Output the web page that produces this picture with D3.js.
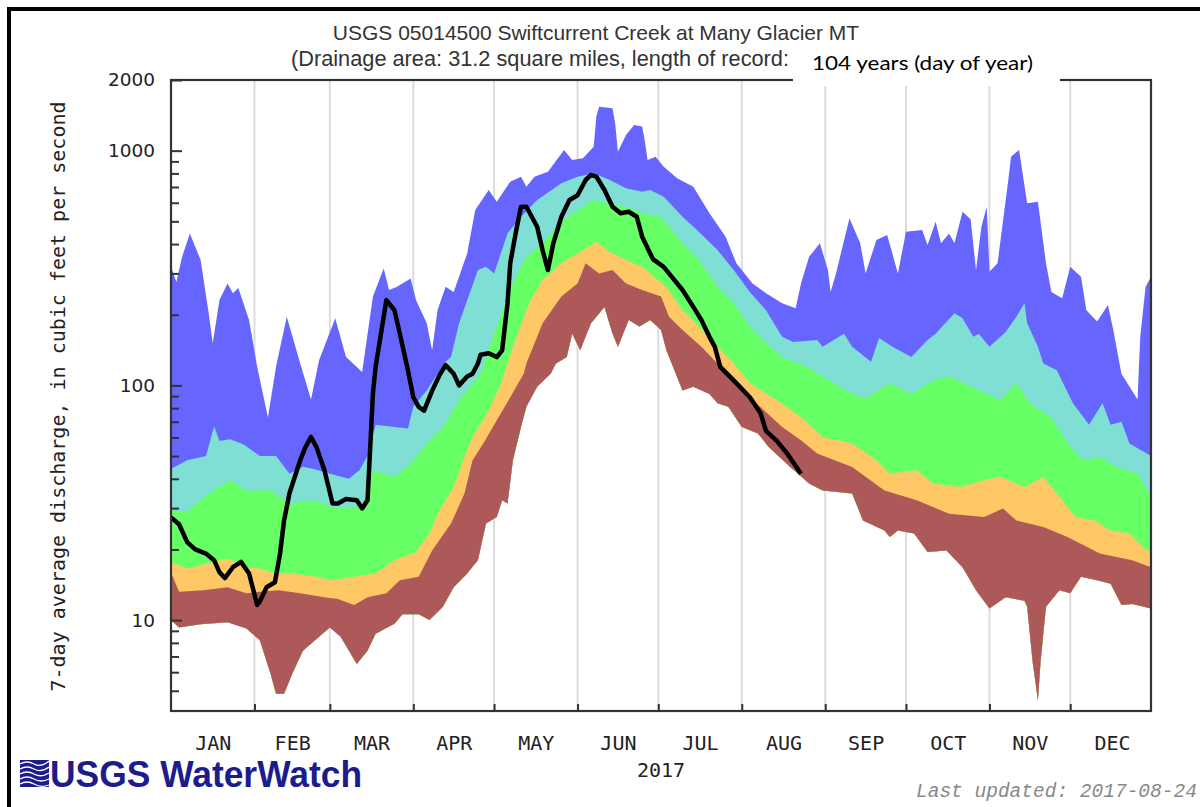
<!DOCTYPE html>
<html><head><meta charset="utf-8">
<script src="https://cdn.jsdelivr.net/npm/d3@7"></script>
<style>body{margin:0;background:#fff;} svg{display:block;}</style>
</head><body>
<svg id="chart" width="1200" height="807"></svg>
<script>
// ---------------- DATA (day of year 2017, cubic feet per second) ----------------
const monthLabels = ["JAN","FEB","MAR","APR","MAY","JUN","JUL","AUG","SEP","OCT","NOV","DEC"];
const yTickLabels = [10, 100, 1000, 2000];
const yMinorTicks = [5,6,7,8,9,20,30,40,50,60,70,80,90,200,300,400,500,600,700,800,900];
const yearLabel = "2017";

const maxFlow = [[0,320],[2,276],[4,349],[7,444],[11,342],[14,203],[15.5,151],[18,231],[21,272],[23,247],[25,260],[29,190],[32,120],[36,73],[39,120],[43,196],[48,124],[52,87],[55,128],[61,193],[65,132],[71,114],[75,239],[79,315],[81,255],[84,263],[89,285],[91,231],[95,184],[97,141],[99,209],[102,263],[105,250],[107,290],[110,365],[113,559],[118,680],[121,606],[126,738],[130,775],[132,702],[135,775],[140,814],[146,1007],[149,913],[153,928],[157,1040],[158,1400],[159,1540],[164,1517],[165,1300],[166,990],[169,1167],[172,1287],[175,1266],[176,1100],[177,913],[180,943],[183,855],[188,762],[194,702],[200,541],[206,430],[210,331],[216,272],[221,247],[227,224],[232,213],[234,272],[237,353],[241,403],[244,310],[245,250],[247,300],[252,515],[256,403],[258,300],[262,416],[266,437],[270,300],[273,451],[279,459],[281,396],[284,498],[286,403],[289,444],[291,403],[294,549],[297,510],[299,310],[301,474],[303,577],[304,305],[307,331],[311,750],[312,943],[315,1007],[318,597],[322,606],[325,331],[327,250],[331,235],[334,320],[338,290],[340,209],[344,187],[348,220],[350,172],[353,112],[355,103],[359,87],[360,161],[362,263],[364,290]];

const p90Flow = [[0,44],[6,48],[13,50],[16,67],[18,58],[22,59],[27,56],[33,50],[39,50],[44,42],[49,45],[53,44],[59,42],[66,40],[70,43.5],[73,50],[76,68],[83,66.5],[88,65.5],[90,81],[95,95],[99,112],[102,126],[104,132],[107,184],[114,310],[117,320],[120,300],[125,444],[130,523],[136,616],[145,726],[151,775],[157,801],[163,750],[169,691],[175,669],[178,680],[183,637],[190,523],[196,451],[203,377],[209,310],[215,250],[221,209],[227,161],[231,153],[240,156],[242,146],[250,166],[253,146],[260,126],[263,159],[268,146],[275,132],[281,156],[284,166],[291,203],[294,193],[298,161],[300,166],[304,146],[310,169],[314,196],[317,224],[318,184],[322,146],[324,124],[329,116],[335,84],[341,68],[346,84],[349,68],[353,70],[356,56.5],[364,50]];

const p75Flow = [[0,29.4],[6,29],[14,34.6],[22,39.4],[28,35.7],[37,35.7],[44,31.4],[53,32.4],[60,30.3],[66,30.3],[71,30.5],[75,43.5],[83,40.7],[89,46.5],[95,56.5],[101,66.5],[107,86.5],[115,112],[120,166],[127,272],[132,353],[138,403],[145,498],[151,559],[157,616],[163,597],[169,577],[175,541],[182,523],[190,403],[196,342],[203,263],[209,224],[215,178],[221,151],[227,132],[236,120],[253,92],[258,88],[267,102],[275,92],[283,105],[289,109],[297,99],[308,86.5],[314,102],[319,84],[327,73],[333,56.5],[339,48],[345,49.6],[351,45],[359,42],[364,33.5]];

const p25Flow = [[0,17.7],[6,16.6],[13,17.4],[21,18.3],[28,16.8],[33,16.6],[39,15.8],[45,15.8],[54,15.3],[60,14.8],[68,15.3],[76,15.8],[83,18],[91,19.5],[96,23.4],[99,28.4],[105,36.9],[109,49.6],[112,60.3],[118,78],[123,105],[127,146],[133,224],[138,281],[145,331],[151,365],[158,409],[163,370],[169,342],[175,320],[178,300],[184,262],[190,209],[196,178],[203,146],[209,124],[215,102],[225,86.5],[234,73.4],[242,60.3],[253,56.5],[262,48],[267,42],[277,43.5],[283,38.2],[293,36.9],[302,39.4],[308,40.7],[317,36.9],[324,40.7],[330,33.5],[336,27.5],[343,26.6],[349,24.1],[356,23.4],[361,20.5],[364,19.2]];

const p10Flow = [[0,16],[3,13.2],[12,13.4],[21,13.8],[28,13],[33,13.2],[40,13.4],[48,13],[57,12.5],[62,12.3],[68,11.6],[73,12.5],[80,13],[85,14.8],[92,15.3],[97,19.8],[104,25.8],[109,34.6],[112,48],[116,56.5],[121,71],[126,89],[131,112],[132,124],[138,184],[145,239],[151,272],[154,331],[159,300],[164,310],[169,272],[175,255],[182,239],[185,196],[190,172],[197,146],[203,124],[215,89],[227,66.5],[234,58.4],[240,51.3],[253,44.9],[265,35.7],[277,32.4],[289,28.4],[302,27.5],[309,29.9],[314,26.6],[324,24.9],[333,22.6],[345,19.2],[357,18],[364,16.8]];

const minFlow = [[0,10],[3,9.3],[11,9.6],[21,9.8],[28,9.2],[33,8.2],[37,5.9],[39,4.86],[42,4.86],[45,5.9],[49,7.4],[55,8.5],[59,9.3],[63,8.5],[69,6.5],[73,7.4],[76,8.75],[83,9.65],[86,10.6],[92,10.6],[96,10],[101,11.4],[105,13.8],[110,15.8],[114,18],[117,25.8],[121,27.5],[123,32.4],[125,31.4],[127,48],[130,66.5],[132,81],[136,98.6],[141,112],[143,124],[147,132],[149,166],[152,141],[156,184],[161,216],[164,166],[166,146],[170,190],[174,178],[178,190],[182,172],[184,141],[190,95],[194,98.6],[200,92],[203,84],[207,81],[212,66.5],[218,62.4],[222,54.7],[230,44.9],[237,38.2],[242,35.7],[253,34.6],[257,26.6],[265,24.1],[267,22.6],[270,24.1],[276,23.4],[281,19.5],[288,19.8],[294,16.8],[299,13.4],[304,11.2],[310,12.5],[317,12.1],[318,11.4],[320,6.7],[322,4.55],[323,6.7],[325,11.4],[330,13.4],[334,13],[338,15.3],[344,14.8],[349,14.3],[353,11.6],[357,11.7],[364,11.2]];

const flow2017 = [[0,27.4],[3,25.6],[6,21.5],[9,20],[13,19.2],[16,18],[18,16],[20,15.1],[23,16.8],[26,17.7],[29,15.8],[32,11.6],[33,12],[35.5,13.8],[38.6,14.5],[40.5,19.2],[42,26.6],[44,34.7],[48,48],[50,54.7],[52,60.3],[54,54.7],[57,43.5],[60,31.4],[62,31.4],[65,32.8],[69,32.4],[71,29.9],[73,32.4],[75,92.4],[76,120],[80,231],[83,209],[85,166],[88,116],[90,89],[92,81],[94,78],[97,95],[100,112],[102,122],[105,112],[107,100],[110,109],[112,112],[114,124],[115,135],[118,137],[121,132],[123,141],[125,224],[126,331],[128,444],[130,577],[132,577],[136,474],[138,377],[140,310],[142,403],[145,523],[148,616],[151,646],[154,750],[156,788],[158,775],[161,680],[164,577],[167,541],[170,549],[173,523],[175,430],[179,345],[183,320],[187,281],[190,255],[194,216],[197,190],[200,161],[202,146],[204,120],[209,105],[215,89],[219,76],[221,64],[225,58],[229,51],[234,42]];

// ---------------- LAYOUT ----------------
const P = {left:171, right:1151, top:80, bottom:711};
const svg = d3.select("#chart");
const day0 = Date.UTC(2017,0,1);
const toDate = d => new Date(day0 + d*864e5);

const x = d3.scaleUtc().domain([toDate(0), toDate(364)]).range([P.left, P.right]);
const y = d3.scaleLog().domain([4.1, 2000]).range([P.bottom, P.top]);

const monthStarts = d3.utcMonth.range(new Date(Date.UTC(2017,0,1)), new Date(Date.UTC(2018,0,1)));
const monthMids = monthStarts.map(m => new Date((+m + +d3.utcMonth.offset(m,1))/2));

// outer frame
svg.append("path").attr("d","M9,807V9H1200").attr("fill","none").attr("stroke","#000").attr("stroke-width",4);

// gridlines
svg.append("g").selectAll("line").data(monthStarts.slice(1)).join("line")
  .attr("x1", d=>x(d)).attr("x2", d=>x(d)).attr("y1", P.top).attr("y2", P.bottom)
  .attr("stroke","#dcdcdc").attr("stroke-width",2);

// clip: region above minimum
const defs = svg.append("defs");
defs.append("clipPath").attr("id","aboveMin").append("path")
  .attr("d", d3.area().x(d=>x(toDate(d[0]))).y0(d=>y(d[1])).y1(P.top - 1)(minFlow));

const bands = [[maxFlow,"#6666ff"],[p90Flow,"#80dfd4"],[p75Flow,"#66ff66"],[p25Flow,"#ffc866"],[p10Flow,"#ad5959"]];
const bandArea = d3.area().x(d=>x(toDate(d[0]))).y0(P.bottom).y1(d=>y(d[1]));
svg.append("g").attr("clip-path","url(#aboveMin)").selectAll("path").data(bands).join("path")
  .attr("d", d=>bandArea(d[0])).attr("fill", d=>d[1]);

// 2017 line
svg.append("path").attr("d", d3.line().x(d=>x(toDate(d[0]))).y(d=>y(d[1]))(flow2017))
  .attr("fill","none").attr("stroke","#000").attr("stroke-width",4.5).attr("stroke-linejoin","round");

// plot frame
svg.append("rect").attr("x",P.left).attr("y",P.top).attr("width",P.right-P.left).attr("height",P.bottom-P.top)
  .attr("fill","none").attr("stroke","#333").attr("stroke-width",2.2);

// x ticks (inward)
const xt = svg.append("g").attr("transform",`translate(0,${P.bottom})`)
  .call(d3.axisBottom(x).tickValues(monthStarts.slice(1)).tickSize(-7).tickFormat(""));
xt.select(".domain").remove();
xt.selectAll("text").remove();
xt.selectAll("line").attr("stroke","#333").attr("stroke-width",2);

// month labels
const xl = svg.append("g").attr("transform",`translate(0,${P.bottom})`)
  .call(d3.axisBottom(x).tickValues(monthMids).tickSize(0).tickPadding(0).tickFormat((d,i)=>monthLabels[i]));
xl.select(".domain").remove();
xl.selectAll("text").attr("y",38.5).attr("dy",null).attr("font-family","DejaVu Sans Mono").attr("font-size",20).attr("fill","#222");

// y axis
const ya = svg.append("g").attr("transform",`translate(${P.left},0)`)
  .call(d3.axisLeft(y).tickValues(yTickLabels).tickSizeInner(-11).tickSizeOuter(0).tickPadding(16).tickFormat(d3.format("d")));
ya.select(".domain").remove();
ya.selectAll("line").attr("stroke","#333").attr("stroke-width",2);
ya.selectAll("text").attr("font-family","DejaVu Sans").attr("font-size",18.5).attr("fill","#222");
const ym = svg.append("g").attr("transform",`translate(${P.left},0)`)
  .call(d3.axisLeft(y).tickValues(yMinorTicks).tickSizeInner(-8).tickSizeOuter(0).tickFormat(""));
ym.select(".domain").remove();
ym.selectAll("text").remove();
ym.selectAll("line").attr("stroke","#333").attr("stroke-width",2);

// axis titles
svg.append("text").attr("transform","translate(65,396.5) rotate(-90)").attr("text-anchor","middle")
  .attr("font-family","DejaVu Sans Mono").attr("font-size",20).attr("fill","#222")
  .text("7-day average discharge, in cubic feet per second");
svg.append("text").attr("x",(P.left+P.right)/2).attr("y",777).attr("text-anchor","middle")
  .attr("font-family","DejaVu Sans Mono").attr("font-size",20).attr("fill","#222").text(yearLabel);

// titles
svg.append("text").attr("x",596).attr("y",40).attr("text-anchor","middle")
  .attr("font-family","Liberation Sans, Arial").attr("font-size",21).attr("fill","#333")
  .text("USGS 05014500 Swiftcurrent Creek at Many Glacier MT");
svg.append("text").attr("x",291).attr("y",66)
  .attr("font-family","Liberation Sans, Arial").attr("font-size",21.5).attr("fill","#333")
  .attr("textLength",498).attr("lengthAdjust","spacingAndGlyphs")
  .text("(Drainage area: 31.2 square miles, length of record:");

// white overlay box
svg.append("rect").attr("x",793).attr("y",44).attr("width",267).attr("height",42).attr("fill","#fff");
svg.append("text").attr("x",812).attr("y",70).attr("font-family","Lato, Open Sans").attr("font-size",20)
  .attr("textLength",221).attr("lengthAdjust","spacingAndGlyphs").attr("fill","#000")
  .text("104 years (day of year)");

// logo
const logo = svg.append("g");
logo.append("rect").attr("x",20).attr("y",760).attr("width",29).attr("height",27).attr("fill","#1c1c8c");
[764,769,774,779,784].forEach((yy,i)=>{
  logo.append("path").attr("d",`M20,${yy} q7,-4 14,0 t15,${-3+i}`).attr("fill","none").attr("stroke","#fff").attr("stroke-width",1.3);
});
svg.append("text").attr("x",50).attr("y",787).attr("font-family","Liberation Sans, Arial").attr("font-weight","bold")
  .attr("font-size",36).attr("textLength",312).attr("lengthAdjust","spacingAndGlyphs").attr("fill","#1c1c8c")
  .text("USGS WaterWatch");

// last updated
svg.append("text").attr("x",916).attr("y",797).attr("font-family","Liberation Mono").attr("font-style","italic")
  .attr("font-size",19.5).attr("fill","#888").text("Last updated: 2017-08-24");
</script>
</body></html>
